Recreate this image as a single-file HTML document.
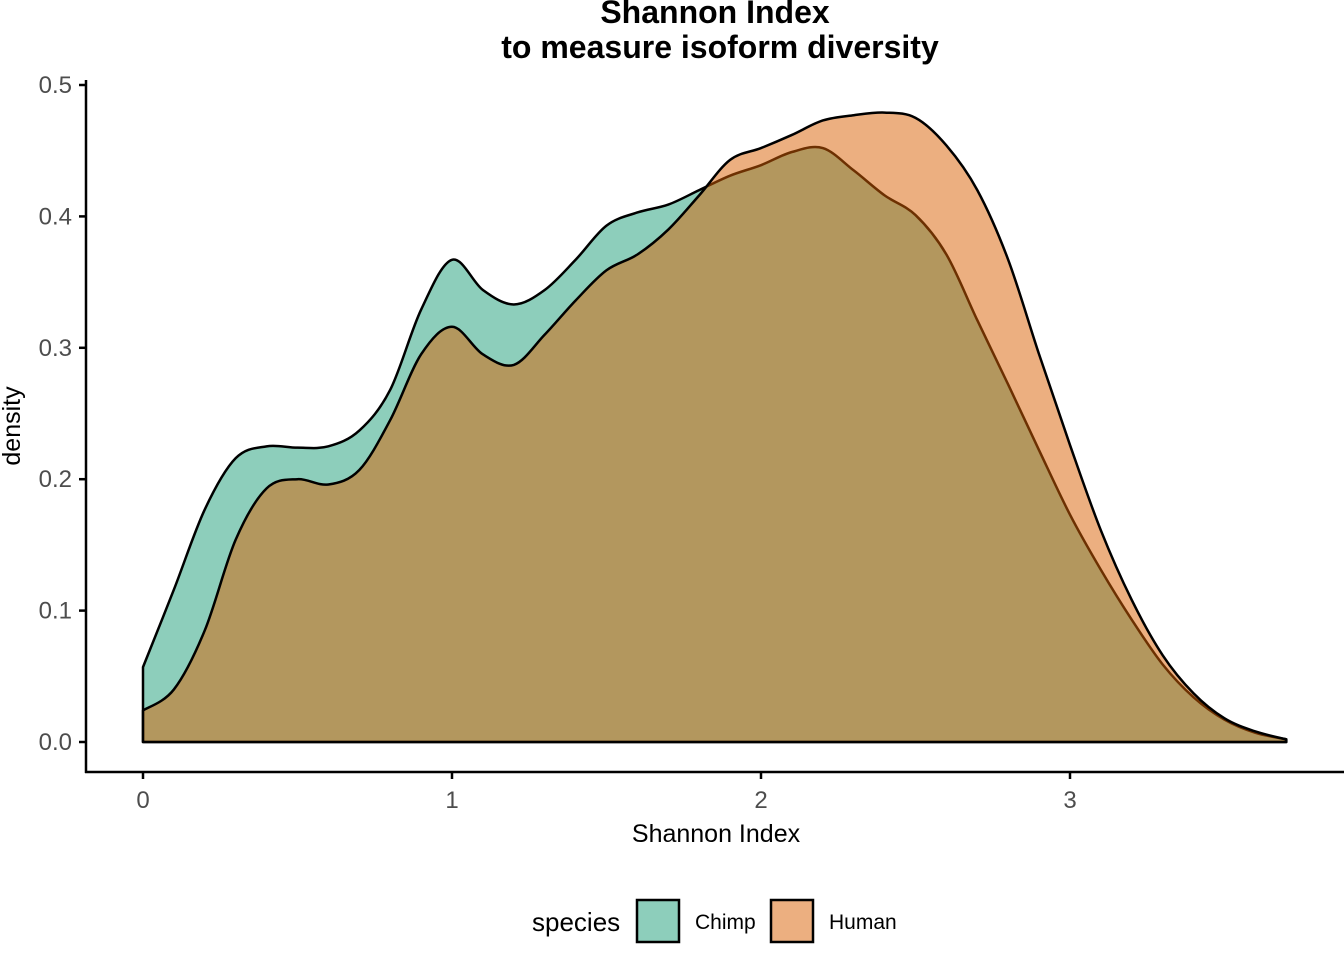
<!DOCTYPE html>
<html><head><meta charset="utf-8">
<style>
html,body{margin:0;padding:0;background:#fff;}
svg text{font-family:"Liberation Sans",Arial,sans-serif;}
</style></head>
<body>
<svg id="chart" width="1344" height="960" viewBox="0 0 1344 960" xmlns="http://www.w3.org/2000/svg">
<text x="715" y="23" text-anchor="middle" font-size="32" font-weight="bold">Shannon Index</text>
<text x="720" y="58" text-anchor="middle" font-size="32" font-weight="bold">to measure isoform diversity</text>
<g id="plot"></g>
<g id="axes"></g>
<text x="716" y="842" text-anchor="middle" font-size="25">Shannon Index</text>
<text transform="translate(20,426) rotate(-90)" text-anchor="middle" font-size="25">density</text>
<g>
<text x="532" y="931" font-size="26">species</text>
<g>
<rect x="637" y="900" width="42" height="42" fill="#1b9e77" fill-opacity="0.5" stroke="#000" stroke-width="2.5"/>
<text x="695" y="929" font-size="21">Chimp</text>
</g>
<g>
<rect x="771" y="900" width="42" height="42" fill="#d95f02" fill-opacity="0.5" stroke="#000" stroke-width="2.5"/>
<text x="829" y="929" font-size="21">Human</text>
</g>
</g>
</svg>
<script>
const xStart = 0;
const xStep = 0.1;
const chimpDensity = [0.057,0.116,0.177,0.216,0.225,0.224,0.225,0.237,0.268,0.329,0.367,0.344,0.333,0.344,0.367,0.393,0.403,0.409,0.420,0.431,0.439,0.449,0.452,0.435,0.416,0.401,0.371,0.321,0.272,0.222,0.173,0.131,0.093,0.059,0.034,0.017,0.007,0.002];
const humanDensity = [0.024,0.040,0.085,0.154,0.193,0.200,0.196,0.207,0.245,0.295,0.316,0.295,0.287,0.310,0.336,0.359,0.371,0.390,0.416,0.443,0.452,0.462,0.473,0.477,0.479,0.475,0.454,0.420,0.367,0.295,0.226,0.161,0.108,0.066,0.037,0.018,0.008,0.002];
const xTicks = [0,1,2,3];
const yTicks = [0.0,0.1,0.2,0.3,0.4,0.5];
const yTickLabels = ["0.0","0.1","0.2","0.3","0.4","0.5"];

const NS = "http://www.w3.org/2000/svg";
function sx(v){ return 143 + v*309; }
function sy(v){ return 742 - v*1314; }

function curvePath(vals){
  const pts = vals.map((v,i)=>[sx(xStart+i*xStep), sy(v)]);
  let d = "M" + sx(xStart) + "," + sy(0) + "L" + pts[0][0] + "," + pts[0][1];
  for(let i=0;i<pts.length-1;i++){
    const p0=pts[Math.max(0,i-1)], p1=pts[i], p2=pts[i+1], p3=pts[Math.min(pts.length-1,i+2)];
    const c1=[p1[0]+(p2[0]-p0[0])/6, p1[1]+(p2[1]-p0[1])/6];
    const c2=[p2[0]-(p3[0]-p1[0])/6, p2[1]-(p3[1]-p1[1])/6];
    d += "C"+c1[0]+","+c1[1]+" "+c2[0]+","+c2[1]+" "+p2[0]+","+p2[1];
  }
  d += "L" + pts[pts.length-1][0] + "," + sy(0) + "Z";
  return d;
}

const plot = document.getElementById("plot");
const series = [[chimpDensity,"#1b9e77","density-chimp"],[humanDensity,"#d95f02","density-human"]];
series.forEach(s=>{
  const p = document.createElementNS(NS,"path");
  p.setAttribute("d", curvePath(s[0]));
  p.setAttribute("fill", s[1]);
  p.setAttribute("fill-opacity", "0.5");
  p.setAttribute("stroke", "#000");
  p.setAttribute("stroke-width", "2.5");
  p.setAttribute("stroke-linejoin", "round");
  
  
  plot.appendChild(p);
});

const axes = document.getElementById("axes");
function line(x1,y1,x2,y2,name){
  const l = document.createElementNS(NS,"line");
  l.setAttribute("x1",x1);l.setAttribute("y1",y1);l.setAttribute("x2",x2);l.setAttribute("y2",y2);
  l.setAttribute("stroke","#000");l.setAttribute("stroke-width","2.5");
  
  
  axes.appendChild(l);
}
function text(x,y,str,anchor,name){
  const t = document.createElementNS(NS,"text");
  t.setAttribute("x",x);t.setAttribute("y",y);t.setAttribute("text-anchor",anchor);
  t.setAttribute("font-size","24");t.setAttribute("fill","#4d4d4d");
  t.textContent = str;
  
  
  axes.appendChild(t);
}
line(86,80,86,773,"y-axis-line");
line(85,772,1344,772,"x-axis-line");
yTicks.forEach((v,i)=>{
  line(79,sy(v),86,sy(v),"y-tick");
  text(72,sy(v)+8,yTickLabels[i],"end","y-tick-label");
});
xTicks.forEach(v=>{
  line(sx(v),772,sx(v),779,"x-tick");
  text(sx(v),808,String(v),"middle","x-tick-label");
});
</script>
</body></html>
